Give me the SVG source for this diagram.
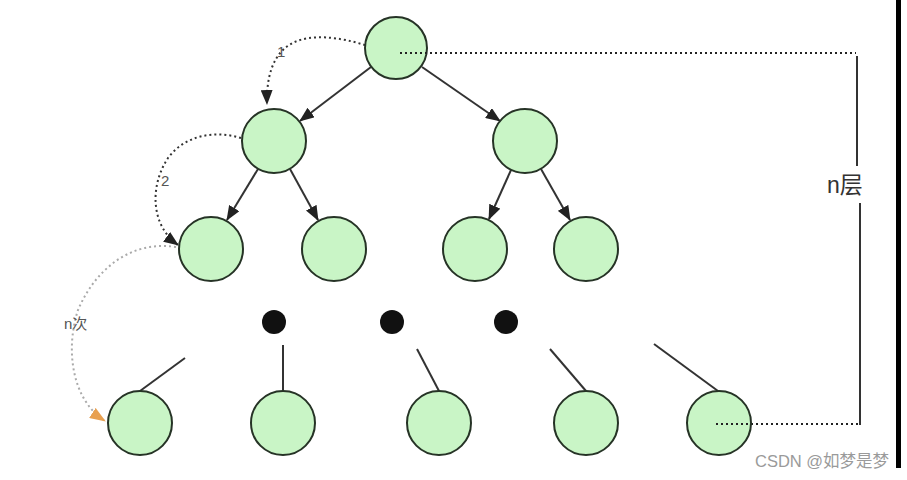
<svg xmlns="http://www.w3.org/2000/svg" width="907" height="480" viewBox="0 0 907 480">
<style>
.n{fill:#c9f5c6;stroke:#263326;stroke-width:2}
.dot{fill:#111}
.e{stroke:#333;stroke-width:2;fill:none}
.dl{stroke:#222;stroke-width:2;stroke-dasharray:2 3;fill:none}
.arc{stroke:#333;stroke-width:2;stroke-dasharray:2 3;fill:none}
.arcg{stroke:#aaa;stroke-width:2;stroke-dasharray:2 3;fill:none}
.lbl{font-family:"Liberation Sans","Noto Sans CJK SC",sans-serif;fill:#555}
</style>
<defs>
<marker id="ah" markerWidth="15" markerHeight="12" refX="14" refY="6" orient="auto" markerUnits="userSpaceOnUse"><path d="M0,0 L15,6 L0,12 Z" fill="#222"/></marker>
<marker id="aho" markerWidth="16" markerHeight="12" refX="15" refY="6" orient="auto" markerUnits="userSpaceOnUse"><path d="M0,0 L16,6 L0,12 Z" fill="#e8a050"/></marker>
</defs>
<rect width="907" height="480" fill="#fff"/>
<rect x="896" y="0" width="5" height="468" fill="#000"/>
<g id="connectors">
<line class="e" x1="371" y1="67" x2="300" y2="121" marker-end="url(#ah)"/>
<line class="e" x1="422" y1="67" x2="500" y2="121" marker-end="url(#ah)"/>
<line class="e" x1="258" y1="169" x2="227" y2="220" marker-end="url(#ah)"/>
<line class="e" x1="290" y1="169" x2="318" y2="220" marker-end="url(#ah)"/>
<line class="e" x1="511" y1="170" x2="489" y2="219" marker-end="url(#ah)"/>
<line class="e" x1="541" y1="169" x2="570" y2="220" marker-end="url(#ah)"/>
<line class="e" x1="140" y1="391" x2="185" y2="358"/>
<line class="e" x1="283" y1="391" x2="283" y2="345"/>
<line class="e" x1="439" y1="391" x2="417" y2="349"/>
<line class="e" x1="586" y1="391" x2="550" y2="349"/>
<line class="e" x1="718" y1="391" x2="654" y2="344"/>
<path class="arc" d="M384,52 C350,38 320,34 300,40 C280,46 266,65 267,104" marker-end="url(#ah)"/>
<path class="arc" d="M241,138 C215,130 185,135 168,158 C150,185 150,225 178,245" marker-end="url(#ah)"/>
<path class="arcg" d="M176,247 C130,240 95,270 78,310 C65,350 72,400 105,421" marker-end="url(#aho)"/>
<line class="dl" x1="400" y1="53" x2="856" y2="53"/>
<line class="e" x1="857" y1="56" x2="857" y2="166"/>
<line class="e" x1="860" y1="203" x2="860" y2="425"/>
<line class="dl" x1="716" y1="424" x2="858" y2="424"/>
</g>
<g id="root"><circle class="n" cx="396" cy="48" r="31"/></g>
<g id="l2a"><circle class="n" cx="274" cy="141" r="32"/></g>
<g id="l2b"><circle class="n" cx="525" cy="141" r="32"/></g>
<g id="l3a"><circle class="n" cx="211" cy="249" r="32"/></g>
<g id="l3b"><circle class="n" cx="334" cy="249" r="32"/></g>
<g id="l3c"><circle class="n" cx="475" cy="249" r="32"/></g>
<g id="l3d"><circle class="n" cx="586" cy="249" r="32"/></g>
<g id="d1"><circle class="dot" cx="274" cy="322" r="12"/></g>
<g id="d2"><circle class="dot" cx="392" cy="322" r="12"/></g>
<g id="d3"><circle class="dot" cx="506" cy="322" r="12"/></g>
<g id="b1"><circle class="n" cx="140" cy="423" r="32"/></g>
<g id="b2"><circle class="n" cx="283" cy="423" r="32"/></g>
<g id="b3"><circle class="n" cx="439" cy="423" r="32"/></g>
<g id="b4"><circle class="n" cx="586" cy="423" r="32"/></g>
<g id="b5"><circle class="n" cx="719" cy="423" r="32"/></g>
<line class="dl" x1="716" y1="424" x2="750" y2="424"/>
<line class="dl" x1="400" y1="53" x2="428" y2="53"/>
<text class="lbl" x="277" y="57" font-size="15">1</text>
<text class="lbl" x="161" y="186" font-size="15">2</text>
<text class="lbl" x="64" y="329" font-size="15">n次</text>
<text class="lbl" x="827" y="193" font-size="23" style="fill:#333">n层</text>
<text class="lbl" x="755" y="467" font-size="16.5" style="fill:#9a9a9a">CSDN @如梦是梦</text>
</svg>
